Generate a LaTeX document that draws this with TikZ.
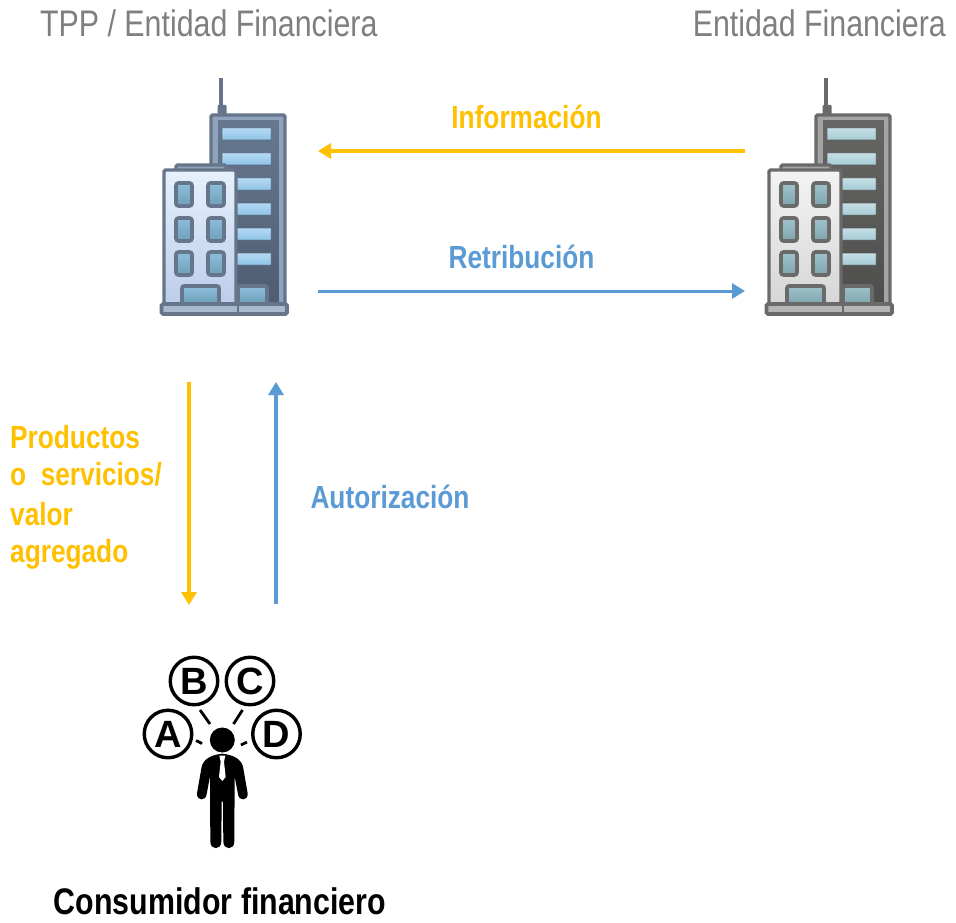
\documentclass[tikz,border=0pt]{standalone}
\usepackage{fontspec}
\usetikzlibrary{arrows.meta}
\setmainfont[FakeStretch=0.82]{Liberation Sans}
\newfontfamily\plainsans{Liberation Sans}
\definecolor{amber}{HTML}{FFC000}
\definecolor{steel}{HTML}{5B9BD5}
\definecolor{graytext}{HTML}{7F7F7F}
\tikzset{
  flow/.style={line width=3.4pt,-{Triangle[length=13pt,width=15pt]}},
  head/.style={font=\fontsize{37}{40}\selectfont,text=graytext,inner sep=0pt},
  lab/.style={font=\fontsize{32}{34}\selectfont\bfseries,inner sep=0pt},
  letter/.style={circle,draw=black,line width=3.4pt,fill=white,minimum size=47.5pt,inner sep=0pt,font=\fontsize{38}{38}\plainsans\bfseries},
  tick/.style={line width=2.8pt,black},
  frame/.style={draw=bframe,line width=3.4pt,rounded corners=1.5pt},
  towerwin/.style={rounded corners=.5pt,top color=winA,bottom color=winB,draw=bdark,draw opacity=.45,line width=1pt},
  smallwin/.style={draw=bframe,line width=3.6pt,rounded corners=2.5pt,top color=winC,bottom color=winD},
}
% building drawn at horizontal shift #1
\newcommand{\officeblock}[1]{%
\begin{scope}[xshift=#1pt]
  % antenna
  \draw[bframe,line width=3.4pt] (221,78) -- (221,106);
  \fill[bframe,rounded corners=1pt] (217.5,105) rectangle (226.5,116);
  % tower
  \shade[frame,top color=bmid,bottom color=bmid] (211,115) rectangle (285,304);
  \shade[top color=bdarkA,bottom color=bdark] (218,121) rectangle (279,303);
  \fill[bmid] (279,119) rectangle (283,303);
  \fill[bmid] (213,117) rectangle (283,120);
  \foreach \yy in {128,153}{\path[towerwin] (222,\yy) rectangle +(49,12);}
  \foreach \yy in {178,203,228,253}{\path[towerwin] (236,\yy) rectangle +(35,12);}
  % low block
  \draw[bframe,line width=3.4pt,rounded corners=1.5pt,fill=bmid] (176,170) -- (176,165) -- (226,165) -- (226,170);
  \shade[frame,top color=wallA,bottom color=wallB] (164,170) rectangle (236,304);
  \foreach \xx in {176,208}{\foreach \yy in {183,218,252}{
    \path[smallwin] (\xx,\yy) rectangle +(16,23);}}
  % doors
  \path[smallwin,rounded corners=2pt] (182,286) rectangle (219,304);
  \path[smallwin,rounded corners=2pt] (238,286) rectangle (267,304);
  % base
  \draw[bframe,line width=3.6pt,rounded corners=1.5pt,fill=baseC] (161.5,304) rectangle (287,314);
  \draw[bframe,line width=2.4pt] (238,304) -- (238,314);
\end{scope}}
\begin{document}
\begin{tikzpicture}[x=1pt,y=-1pt]
\useasboundingbox (0,0) rectangle (956,923);
\fill[white] (0,0) rectangle (956,923);
% buildings
\begin{scope}
  \definecolor{bframe}{HTML}{66758A}\definecolor{bmid}{HTML}{8FA3BC}
  \definecolor{bdark}{HTML}{4F5D70}\definecolor{bdarkA}{HTML}{667890}
  \definecolor{wallA}{HTML}{E6F1FC}\definecolor{wallB}{HTML}{BCCDEA}
  \definecolor{winA}{HTML}{B4DAF5}\definecolor{winB}{HTML}{8FC3E6}
  \definecolor{winC}{HTML}{8DBFDC}\definecolor{winD}{HTML}{6E9FB8}
  \definecolor{baseC}{HTML}{A8BAD0}
  \officeblock{0}
\end{scope}
\begin{scope}
  \definecolor{bframe}{HTML}{6A6A6A}\definecolor{bmid}{HTML}{A3A5A3}
  \definecolor{bdark}{HTML}{4E4F4C}\definecolor{bdarkA}{HTML}{666765}
  \definecolor{wallA}{HTML}{F3F3F3}\definecolor{wallB}{HTML}{D6D6D6}
  \definecolor{winA}{HTML}{C5DEE4}\definecolor{winB}{HTML}{A6CDD6}
  \definecolor{winC}{HTML}{9FC3CA}\definecolor{winD}{HTML}{7FA5AC}
  \definecolor{baseC}{HTML}{B4B5B4}
  \officeblock{605}
\end{scope}
% headings
\node[head,anchor=base west] (tpp) at (40,37) {TPP / Entidad Financiera};
\node[head,anchor=base east] (ef) at (946,37) {Entidad Financiera};
% flow end points
\coordinate (infoS) at (745,151); \coordinate (infoT) at (318,151);
\coordinate (retS) at (318,291); \coordinate (retT) at (745,291);
\coordinate (prodS) at (189,382); \coordinate (prodT) at (189,605);
\coordinate (autS) at (276,604); \coordinate (autT) at (276,382);
\draw[flow,amber] (infoS) -- (infoT);
\draw[flow,steel,line width=3pt] (retS) -- (retT);
\draw[flow,amber] (prodS) -- (prodT);
\draw[flow,steel] (autS) -- (autT);
% labels
\node[lab,text=amber,anchor=base] (info) at (526.5,129) {Información};
\node[lab,text=steel,anchor=base] (ret) at (521.5,268) {Retribución};
\node[lab,text=steel,anchor=base] (aut) at (390,508) {Autorización};
\node[lab,text=amber,anchor=base west] (p1) at (10,448) {Productos};
\node[lab,text=amber,anchor=base west] (p2) at (10,485) {o\ \ servicios/};
\node[lab,text=amber,anchor=base west] (p3) at (10,525) {valor};
\node[lab,text=amber,anchor=base west] (p4) at (10,562) {agregado};
\node[lab,text=black,anchor=base] (cons) at (220,914) {\fontsize{37}{40}\selectfont Consumidor financiero};
% person
\node[letter] (A) at (168,734) {A};
\node[letter] (B) at (194,681) {B};
\node[letter] (C) at (250,681) {C};
\node[letter] (D) at (276.5,734) {D};
\draw[tick] (200,710) -- (210,724);
\draw[tick] (242.5,710) -- (233.5,724);
\draw[tick] (196,740.5) -- (202,743.5);
\draw[tick] (247,742) -- (241,745);
\fill[black] (222.3,740) circle (12.5);
\begin{scope}[shift={(130,645)},x=.3333pt,y=-.3333pt]
  \fill[black,line join=round]
    (277,326) .. controls (245,330) and (222,340) .. (215,365)
    -- (201,445) .. controls (199,468) and (228,470) .. (230,447)
    -- (240,395) -- (241,590)
    .. controls (241,616) and (274,616) .. (274,590)
    -- (275,470) -- (279,470) -- (280,590)
    .. controls (280,616) and (313,616) .. (313,590)
    -- (314,395) -- (324,447)
    .. controls (326,470) and (355,468) .. (353,445)
    -- (339,365) .. controls (332,340) and (309,330) .. (277,326) -- cycle;
  \fill[white] (268,332) -- (286,332) -- (282,350) -- (287,396) -- (277,408) -- (267,396) -- (272,350) -- cycle;
\end{scope}
\end{tikzpicture}
\end{document}
